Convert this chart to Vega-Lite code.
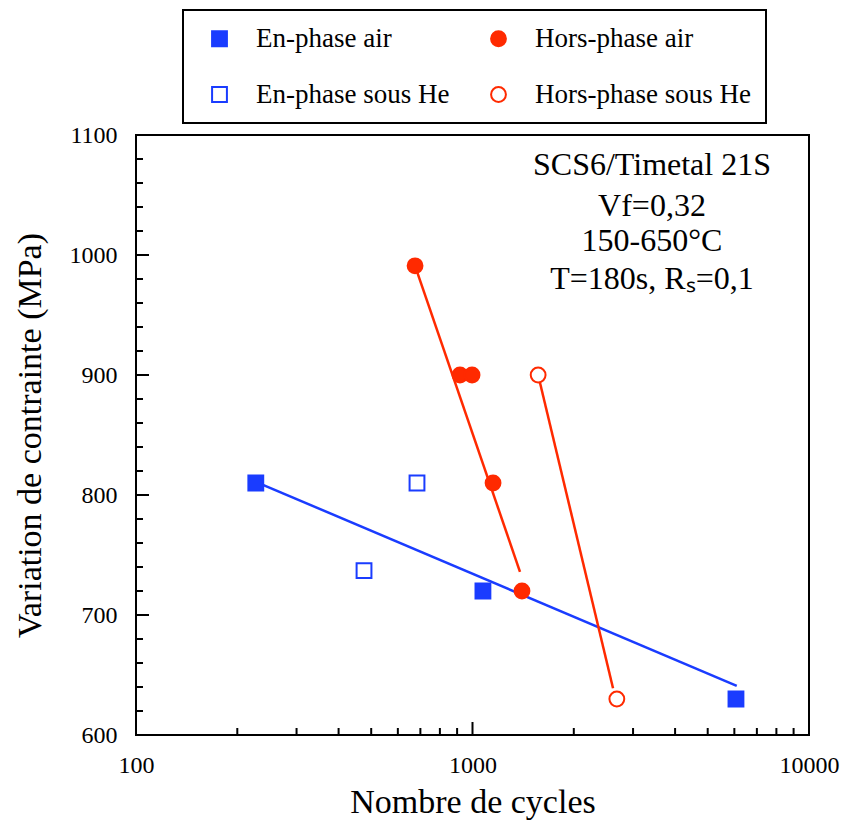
{
  "$schema": "https://vega.github.io/schema/vega-lite/v6.json",
  "width": 673,
  "height": 600,
  "autosize": "none",
  "padding": {"left": 136, "top": 135, "right": 32, "bottom": 91},
  "background": "white",
  "config": {
    "font": "Liberation Serif",
    "view": {"stroke": "black", "strokeWidth": 2},
    "axis": {
      "domain": false,
      "ticks": false,
      "labelColor": "black",
      "labelFont": "Liberation Serif",
      "labelFontSize": 24,
      "titleFont": "Liberation Serif",
      "titleFontSize": 34,
      "titleFontWeight": "normal",
      "titleColor": "black",
      "grid": false,
      "labelOverlap": false,
      "labelFlush": false
    },
    "legend": {
      "labelFont": "Liberation Serif",
      "labelFontSize": 27,
      "labelColor": "black",
      "strokeColor": "black",
      "strokeWidth": 2,
      "padding": 15,
      "rowPadding": 28,
      "columnPadding": 27,
      "symbolSize": 220,
      "symbolStrokeWidth": 2,
      "symbolOffset": 8,
      "labelOffset": 23,
      "labelLimit": 400
    }
  },
  "datasets": {
    "points": [
      {"series": "En-phase air", "cycles": 227, "stress": 810},
      {"series": "En-phase air", "cycles": 1074, "stress": 720},
      {"series": "En-phase air", "cycles": 6067, "stress": 630},
      {"series": "En-phase sous He", "cycles": 684, "stress": 810},
      {"series": "En-phase sous He", "cycles": 476, "stress": 737},
      {"series": "Hors-phase air", "cycles": 675, "stress": 991},
      {"series": "Hors-phase air", "cycles": 918, "stress": 900},
      {"series": "Hors-phase air", "cycles": 997, "stress": 900},
      {"series": "Hors-phase air", "cycles": 1151, "stress": 810},
      {"series": "Hors-phase air", "cycles": 1403, "stress": 720},
      {"series": "Hors-phase sous He", "cycles": 1567, "stress": 900},
      {"series": "Hors-phase sous He", "cycles": 2685, "stress": 630}
    ],
    "fits": [
      {"fit": "En-phase air", "cycles": 227, "stress": 811},
      {"fit": "En-phase air", "cycles": 6100, "stress": 641},
      {"fit": "Hors-phase air", "cycles": 675, "stress": 991},
      {"fit": "Hors-phase air", "cycles": 1384, "stress": 736},
      {"fit": "Hors-phase sous He", "cycles": 1567, "stress": 900},
      {"fit": "Hors-phase sous He", "cycles": 2616, "stress": 639}
    ],
    "notes": [
      {"text": "SCS6/Timetal 21S", "cycles": 3415, "stress": 1075},
      {"text": "Vf=0,32", "cycles": 3415, "stress": 1041},
      {"text": "150-650°C", "cycles": 3415, "stress": 1012},
      {"text": "T=180s, Rₛ=0,1", "cycles": 3415, "stress": 980}
    ],
    "xticks": [
      {"value": 100, "kind": "major"}, {"value": 1000, "kind": "major"}, {"value": 10000, "kind": "major"},
      {"value": 200, "kind": "minor"}, {"value": 300, "kind": "minor"}, {"value": 400, "kind": "minor"},
      {"value": 500, "kind": "minor"}, {"value": 600, "kind": "minor"}, {"value": 700, "kind": "minor"},
      {"value": 800, "kind": "minor"}, {"value": 900, "kind": "minor"},
      {"value": 2000, "kind": "minor"}, {"value": 3000, "kind": "minor"}, {"value": 4000, "kind": "minor"},
      {"value": 5000, "kind": "minor"}, {"value": 6000, "kind": "minor"}, {"value": 7000, "kind": "minor"},
      {"value": 8000, "kind": "minor"}, {"value": 9000, "kind": "minor"}
    ],
    "yticks": [
      {"value": 600, "kind": "major"}, {"value": 700, "kind": "major"}, {"value": 800, "kind": "major"},
      {"value": 900, "kind": "major"}, {"value": 1000, "kind": "major"}, {"value": 1100, "kind": "major"},
      {"value": 620, "kind": "minor"}, {"value": 640, "kind": "minor"}, {"value": 660, "kind": "minor"}, {"value": 680, "kind": "minor"},
      {"value": 720, "kind": "minor"}, {"value": 740, "kind": "minor"}, {"value": 760, "kind": "minor"}, {"value": 780, "kind": "minor"},
      {"value": 820, "kind": "minor"}, {"value": 840, "kind": "minor"}, {"value": 860, "kind": "minor"}, {"value": 880, "kind": "minor"},
      {"value": 920, "kind": "minor"}, {"value": 940, "kind": "minor"}, {"value": 960, "kind": "minor"}, {"value": 980, "kind": "minor"},
      {"value": 1020, "kind": "minor"}, {"value": 1040, "kind": "minor"}, {"value": 1060, "kind": "minor"}, {"value": 1080, "kind": "minor"}
    ]
  },
  "resolve": {"axis": {"x": "independent", "y": "independent"}},
  "layer": [
    {
      "data": {"name": "xticks"},
      "transform": [{"filter": "datum.kind == 'major'"}],
      "mark": {"type": "tick", "orient": "vertical", "size": 13, "thickness": 2, "color": "black", "opacity": 1},
      "encoding": {
        "x": {"field": "value", "type": "quantitative", "scale": {"type": "log", "domain": [100, 10000], "nice": false}, "axis": null},
        "y": {"datum": 605.42, "type": "quantitative", "scale": {"domain": [600, 1100], "nice": false, "zero": false}, "axis": null}
      }
    },
    {
      "data": {"name": "xticks"},
      "transform": [{"filter": "datum.kind == 'minor'"}],
      "mark": {"type": "tick", "orient": "vertical", "size": 7, "thickness": 2, "color": "black", "opacity": 1},
      "encoding": {
        "x": {"field": "value", "type": "quantitative", "scale": {"type": "log", "domain": [100, 10000], "nice": false}, "axis": null},
        "y": {"datum": 602.92, "type": "quantitative", "scale": {"domain": [600, 1100], "nice": false, "zero": false}, "axis": null}
      }
    },
    {
      "data": {"name": "yticks"},
      "transform": [{"filter": "datum.kind == 'major'"}],
      "mark": {"type": "tick", "orient": "horizontal", "size": 13, "thickness": 2, "color": "black", "opacity": 1},
      "encoding": {
        "y": {"field": "value", "type": "quantitative", "scale": {"domain": [600, 1100], "nice": false, "zero": false}, "axis": null},
        "x": {"datum": 104.55, "type": "quantitative", "scale": {"type": "log", "domain": [100, 10000], "nice": false}, "axis": null}
      }
    },
    {
      "data": {"name": "yticks"},
      "transform": [{"filter": "datum.kind == 'minor'"}],
      "mark": {"type": "tick", "orient": "horizontal", "size": 7, "thickness": 2, "color": "black", "opacity": 1},
      "encoding": {
        "y": {"field": "value", "type": "quantitative", "scale": {"domain": [600, 1100], "nice": false, "zero": false}, "axis": null},
        "x": {"datum": 102.42, "type": "quantitative", "scale": {"type": "log", "domain": [100, 10000], "nice": false}, "axis": null}
      }
    },
    {
      "data": {"name": "fits"},
      "mark": {"type": "line", "strokeWidth": 2.5},
      "encoding": {
        "x": {"field": "cycles", "type": "quantitative", "scale": {"type": "log", "domain": [100, 10000], "nice": false}, "axis": null},
        "y": {"field": "stress", "type": "quantitative", "scale": {"domain": [600, 1100], "nice": false, "zero": false}, "axis": null},
        "color": {
          "field": "fit",
          "type": "nominal",
          "legend": null,
          "scale": {"domain": ["En-phase air", "Hors-phase air", "Hors-phase sous He"], "range": ["#1a3cff", "#ff2a00", "#ff2a00"]}
        }
      }
    },
    {
      "data": {"name": "points"},
      "mark": {"type": "point", "size": 220, "strokeWidth": 2, "opacity": 1},
      "encoding": {
        "x": {
          "field": "cycles", "type": "quantitative", "title": "Nombre de cycles",
          "scale": {"type": "log", "domain": [100, 10000], "nice": false},
          "axis": {"orient": "bottom", "values": [100, 1000, 10000], "format": "d", "labelPadding": 18, "titlePadding": 8}
        },
        "y": {
          "field": "stress", "type": "quantitative", "title": "Variation de contrainte (MPa)",
          "scale": {"domain": [600, 1100], "nice": false, "zero": false},
          "axis": {"orient": "left", "values": [600, 700, 800, 900, 1000, 1100], "format": "d", "labelPadding": 19, "titlePadding": 22}
        },
        "shape": {
          "field": "series",
          "type": "nominal",
          "scale": {"domain": ["En-phase air", "Hors-phase air", "En-phase sous He", "Hors-phase sous He"], "range": ["square", "circle", "square", "circle"]},
          "legend": {"title": null, "orient": "none", "legendX": 47, "legendY": -125, "columns": 2, "direction": "horizontal"}
        },
        "fill": {
          "field": "series",
          "type": "nominal",
          "scale": {"domain": ["En-phase air", "Hors-phase air", "En-phase sous He", "Hors-phase sous He"], "range": ["#1a3cff", "#ff2a00", "white", "white"]}
        },
        "stroke": {
          "field": "series",
          "type": "nominal",
          "scale": {"domain": ["En-phase air", "Hors-phase air", "En-phase sous He", "Hors-phase sous He"], "range": ["#1a3cff", "#ff2a00", "#1a3cff", "#ff2a00"]}
        }
      }
    },
    {
      "data": {"name": "notes"},
      "mark": {"type": "text", "fontSize": 32, "font": "Liberation Serif", "color": "black", "align": "center", "baseline": "middle"},
      "encoding": {
        "x": {"field": "cycles", "type": "quantitative", "scale": {"type": "log", "domain": [100, 10000], "nice": false}, "axis": null},
        "y": {"field": "stress", "type": "quantitative", "scale": {"domain": [600, 1100], "nice": false, "zero": false}, "axis": null},
        "text": {"field": "text", "type": "nominal"}
      }
    }
  ]
}
